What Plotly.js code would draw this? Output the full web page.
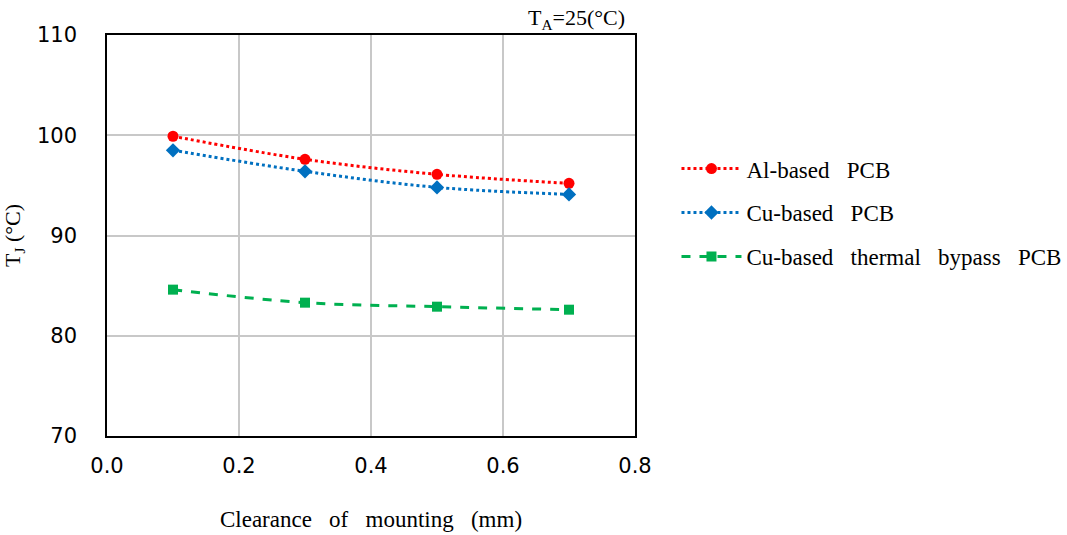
<!DOCTYPE html>
<html>
<head>
<meta charset="utf-8">
<script src="https://cdn.plot.ly/plotly-3.0.1.min.js"></script>
<style>body{margin:0;padding:0;background:#fff;} #chart{width:1067px;height:535px;}</style>
</head>
<body>
<div id="chart"></div>
<script>
const clearance = [0.1, 0.3, 0.5, 0.7];
const alBased = [99.9, 97.6, 96.1, 95.2];
const cuBased = [98.5, 96.4, 94.8, 94.1];
const cuBypass = [84.6, 83.3, 82.9, 82.6];
const sp = '&nbsp;&nbsp;&nbsp;';
const seriesNames = ["Al-based" + sp + "PCB", "Cu-based" + sp + "PCB", "Cu-based" + sp + "thermal" + sp + "bypass" + sp + "PCB"];
const xTitle = "Clearance" + sp + "of" + sp + "mounting" + sp + "(mm)";

const serif = 'Liberation Serif, Times New Roman, serif';
const traces = [
  {x: clearance, y: alBased, name: seriesNames[0], mode: 'lines+markers', line: {shape: 'spline', color: '#ff0000', dash: 'dot', width: 3}, marker: {symbol: 'circle', size: 11, color: '#ff0000'}, legendgroup: 'a'},
  {x: clearance, y: cuBased, name: seriesNames[1], mode: 'lines+markers', line: {shape: 'spline', color: '#0070c0', dash: 'dot', width: 3}, marker: {symbol: 'diamond', size: 11, color: '#0070c0'}, legendgroup: 'b'},
  {x: clearance, y: cuBypass, name: seriesNames[2], mode: 'lines+markers', line: {shape: 'spline', color: '#00b050', dash: 'dash', width: 3}, marker: {symbol: 'square', size: 10, color: '#00b050'}, legendgroup: 'c'}
];

const layout = {
  width: 1067, height: 535,
  margin: {l: 107, r: 432, t: 35, b: 99, autoexpand: false},
  paper_bgcolor: '#fff', plot_bgcolor: '#fff',
  showlegend: true,
  legend: {xref: 'container', yref: 'container', x: 0.634, y: 0.725, xanchor: 'left', yanchor: 'top', font: {family: serif, size: 23, color: '#000'}, tracegroupgap: 11, traceorder: 'grouped', itemwidth: 60, bgcolor: 'rgba(0,0,0,0)'},
  xaxis: {
    range: [0, 0.8], dtick: 0.2, tickformat: '.1f',
    showgrid: true, gridcolor: '#c8c8c8', gridwidth: 1.5,
    showline: true, linecolor: '#000', linewidth: 1.5, mirror: true,
    zeroline: false, ticks: '',
    ticklabelstandoff: 10,
    tickfont: {family: 'DejaVu Sans, Verdana, sans-serif', size: 21, color: '#000'},
    title: {text: xTitle, font: {family: serif, size: 23, color: '#000'}, standoff: 34}
  },
  yaxis: {
    range: [70, 110], dtick: 10,
    showgrid: true, gridcolor: '#c8c8c8', gridwidth: 1.5,
    showline: true, linecolor: '#000', linewidth: 1.5, mirror: true,
    zeroline: false, ticks: '',
    ticklabelstandoff: 24,
    tickfont: {family: 'DejaVu Sans, Verdana, sans-serif', size: 21, color: '#000'},
    title: {text: 'T<sub>J</sub> (°C)', font: {family: serif, size: 22, color: '#000'}, standoff: 12}
  },
  annotations: [{
    xref: 'paper', yref: 'paper', x: 0.985, y: 1.0, xanchor: 'right', yanchor: 'bottom',
    text: 'T<sub>A</sub>=25(°C)', showarrow: false,
    font: {family: serif, size: 22, color: '#000'}
  }]
};

Plotly.newPlot('chart', traces, layout, {displayModeBar: false});
</script>
</body>
</html>
